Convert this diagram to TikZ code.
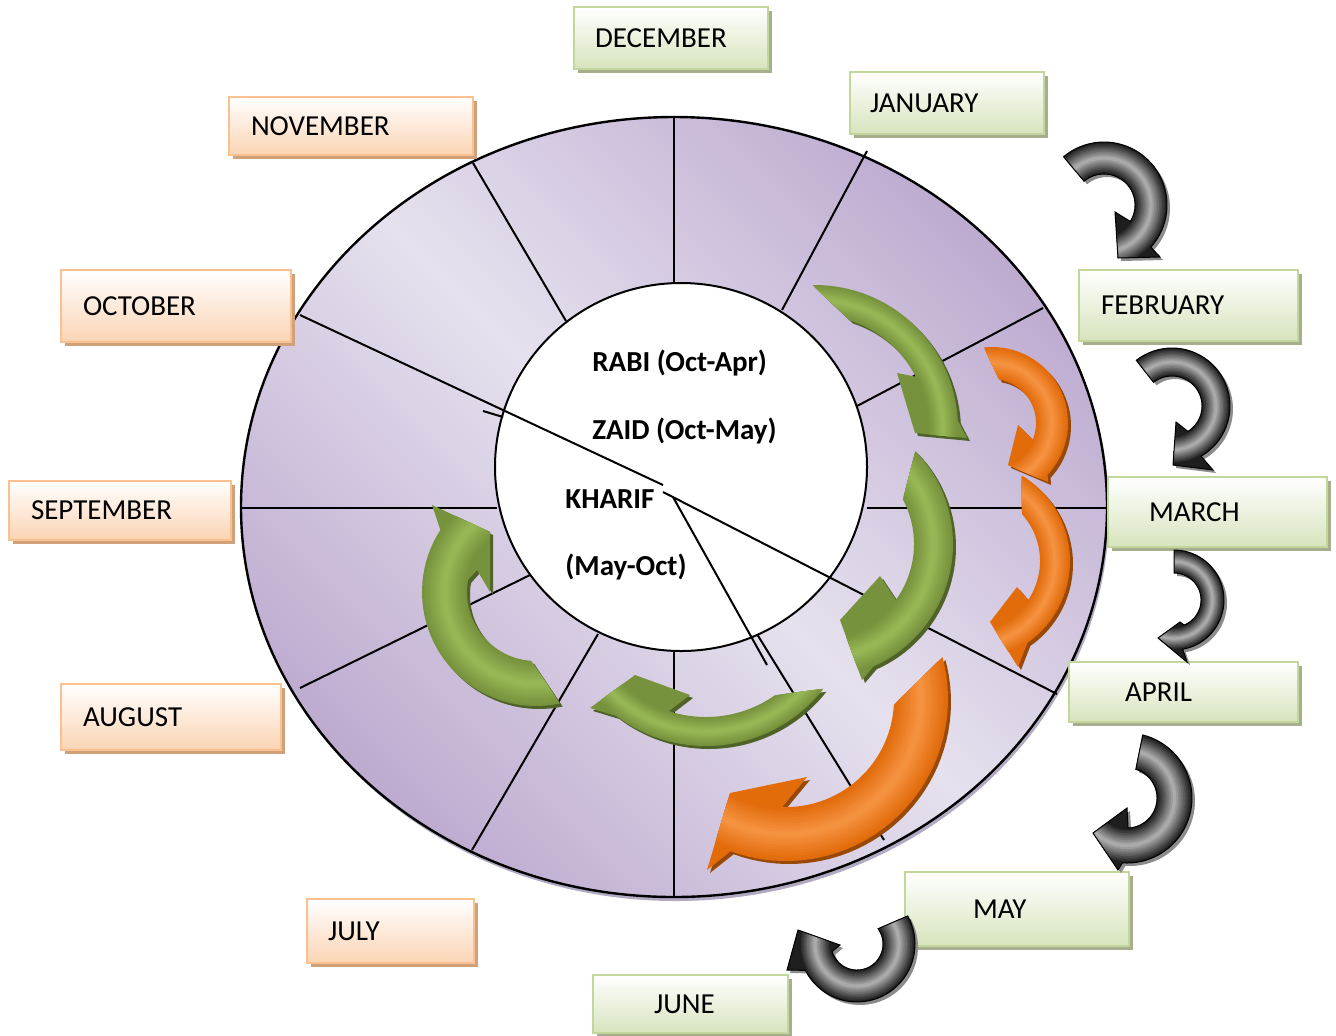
\documentclass[tikz,border=0pt]{standalone}
\usepackage{fontspec}
\setmainfont{Carlito}
\usetikzlibrary{shadows}

\definecolor{ringdark}{RGB}{189,171,208}
\definecolor{ringlight}{RGB}{230,225,238}
\definecolor{ringshade}{RGB}{178,170,194}
\definecolor{boxgreen}{RGB}{195,214,155}
\definecolor{boxgreenfill}{RGB}{215,228,189}
\definecolor{boxgreenshade}{RGB}{166,174,142}
\definecolor{boxorange}{RGB}{250,192,144}
\definecolor{boxorangefill}{RGB}{251,212,180}
\definecolor{boxorangeshade}{RGB}{208,162,124}
\definecolor{greenedge}{RGB}{118,146,60}
\definecolor{greenlight}{RGB}{155,187,89}
\definecolor{greenshade}{RGB}{79,98,40}
\definecolor{orangeedge}{RGB}{226,107,10}
\definecolor{orangelight}{RGB}{247,150,70}
\definecolor{orangeshade}{RGB}{152,72,7}
\definecolor{grayedge}{RGB}{30,30,30}
\definecolor{graylight}{RGB}{185,185,185}
\definecolor{grayshade}{RGB}{140,140,140}

\newcommand{\arrowshape}[9]{plot[domain=#5:#6,samples=40] ({#1+#4*cos(\x)},{#2+#4*sin(\x)}) #9 -- plot[domain=#7:#8,samples=40] ({#1+#3*cos(\x)},{#2+#3*sin(\x)}) -- cycle}
\newcommand{\arrowcolors}[4]{\def\arrowedge{#1}\def\arrowlight{#2}\def\arrowshade{#3}\def\arrowline{#4}}
\newcommand{\bandarrow}[9]{
  \fill[fill=\arrowshade,shift={(3,3)}] \arrowshape{#1}{#2}{#3}{#4}{#5}{#6}{#7}{#8}{#9};
  \fill[fill=\arrowedge] \arrowshape{#1}{#2}{#3}{#4}{#5}{#6}{#7}{#8}{#9};
  \begin{scope}
    \clip \arrowshape{#1}{#2}{#3}{#4}{#5}{#6}{#7}{#8}{#9};
    \foreach \k in {1,...,9}{
      \pgfmathsetmacro\lw{(#4-#3)*0.5*(1-\k/10)}
      \pgfmathtruncatemacro\pct{\k*10}
      \draw[draw=\arrowlight!\pct!\arrowedge,line width=\lw pt] (#1,#2) circle[radius={(#3+#4)/2}];
    }
  \end{scope}
  \draw[draw=\arrowline,line width=0.5pt] \arrowshape{#1}{#2}{#3}{#4}{#5}{#6}{#7}{#8}{#9};
}

\begin{document}
\begin{tikzpicture}[x=0.5pt,y=-0.5pt,
  spoke/.style={line width=1pt},
  season/.style={font=\bfseries\fontsize{14.5}{17}\selectfont,inner sep=0pt,anchor=west},
  monthbox/.style={anchor=west,align=left,inner ysep=0pt,line width=1pt,font=\fontsize{14.5}{17}\selectfont},
  greenbox/.style={monthbox,draw=boxgreen,top color=white,bottom color=boxgreenfill,
    drop shadow={shadow xshift=2pt,shadow yshift=-2pt,fill=boxgreenshade,opacity=1}},
  orangebox/.style={monthbox,draw=boxorange,top color=white,bottom color=boxorangefill,
    drop shadow={shadow xshift=2pt,shadow yshift=-2pt,fill=boxorangeshade,opacity=1}}]
\useasboundingbox (0,0) rectangle (1336,1035);

\fill[ringshade] (676,511) ellipse[x radius=433,y radius=390];
\shade[top color=ringdark,bottom color=ringdark,middle color=ringlight,shading angle=-45]
  (674,507) ellipse[x radius=433,y radius=390];
\draw[line width=1.2pt] (674,507) ellipse[x radius=433,y radius=390];

\draw[spoke] (674,117) -- (674,283);
\draw[spoke] (867,151) -- (782,310);
\draw[spoke] (1043,308) -- (857,406);
\draw[spoke] (867,508) -- (1107,508);
\draw[spoke] (752,626) -- (884,840);
\draw[spoke] (674,651) -- (674,897);
\draw[spoke] (598,634) -- (472,850);
\draw[spoke] (530,575) -- (300,688);
\draw[spoke] (241,508) -- (497,508);
\draw[spoke] (473,163) -- (566,321);
\draw[line width=1pt,fill=white] (681,467) ellipse[x radius=186,y radius=184];
\draw[spoke] (300,315) -- (663,485);
\draw[spoke] (483,411) -- (503,417);
\draw[spoke] (663,492) -- (1057,694);
\draw[spoke] (673,497) -- (767,665);

\node[season] (rabi) at (592,363) {RABI (Oct-Apr)};
\node[season] (zaid) at (592,431) {ZAID (Oct-May)};
\node[season] (kharif) at (565,499) {KHARIF};
\node[season] (kharifmonths) at (565,567) {(May-Oct)};

\arrowcolors{greenedge}{greenlight}{greenshade}{none}
\bandarrow{815}{428}{113}{143}{269}{357}{333}{288}{-- (967,438) -- (915,433) -- (897,373)}
\bandarrow{819}{544}{95}{134}{-44}{66}{36}{-28}{-- (862,680) -- (840,620) -- (880,576)}
\bandarrow{706}{597}{120}{149}{38}{127}{108}{55}{-- (590,708) -- (635,675) -- (690,695)}
\bandarrow{536}{592}{69}{114}{78}{213}{190}{94}{-- (432,505) -- (490,532) -- (490,592) -- (477,570)}
\arrowcolors{orangeedge}{orangelight}{orangeshade}{none}
\bandarrow{992}{423}{44}{76}{264}{403}{382}{279}{-- (1048,482) -- (1008,465) -- (1018,425)}
\bandarrow{970}{561}{70}{100}{301}{415}{394}{318}{-- (1018,667) -- (990,622) -- (1017,587)}
\bandarrow{786}{699}{108}{162}{-15}{110}{92}{3}{-- (707,870) -- (730,793) -- (807,777)}

\node[greenbox,text width=76pt,inner xsep=10.5pt,minimum height=31pt] (dec) at (573,38) {DECEMBER};
\node[greenbox,text width=77pt,inner xsep=10pt,minimum height=31pt] (jan) at (849,103) {JANUARY};
\node[orangebox,text width=100pt,inner xsep=11pt,minimum height=29pt] (nov) at (228,126) {NOVEMBER};
\node[orangebox,text width=93pt,inner xsep=11pt,minimum height=36pt] (oct) at (60,306) {OCTOBER};
\node[greenbox,text width=87.5pt,inner xsep=11pt,minimum height=35.5pt] (feb) at (1078,305) {FEBRUARY};
\node[greenbox,text width=68.5pt,inner xsep=20.5pt,minimum height=35pt] (mar) at (1107,512) {MARCH};
\node[orangebox,text width=89pt,inner xsep=11pt,minimum height=29.5pt] (sep) at (8,510) {SEPTEMBER};
\node[greenbox,text width=58.5pt,inner xsep=28pt,minimum height=30pt] (apr) at (1068,692) {APRIL};
\node[orangebox,text width=88pt,inner xsep=11pt,minimum height=33pt] (aug) at (60,717) {AUGUST};
\node[greenbox,text width=44pt,inner xsep=34pt,minimum height=37pt] (may) at (904,909) {MAY};
\node[orangebox,text width=62.5pt,inner xsep=10.5pt,minimum height=32pt] (jul) at (306,931) {JULY};
\node[greenbox,text width=36.5pt,inner xsep=30.5pt,minimum height=29pt] (jun) at (592,1004) {JUNE};

\arrowcolors{grayedge}{graylight}{grayshade}{black}
\bandarrow{1104}{205}{31}{63}{230}{402}{392}{230}{-- (1160,257) -- (1118,258) -- (1115,212)}
\bandarrow{1172}{406}{30}{58}{232}{420}{418}{232}{-- (1213,470) -- (1173,465) -- (1176,422)}
\bandarrow{1174}{600}{27}{50}{270}{440}{428}{270}{-- (1187,662) -- (1158,638) -- (1180,622)}
\bandarrow{1127}{798}{30}{65}{284}{454}{448}{287}{-- (1118,870) -- (1093,833) -- (1127,808)}
\bandarrow{857}{944}{26}{58}{-29}{153}{163}{-36}{-- (787,970) -- (798,930) -- (840,945)}
\end{tikzpicture}
\end{document}
